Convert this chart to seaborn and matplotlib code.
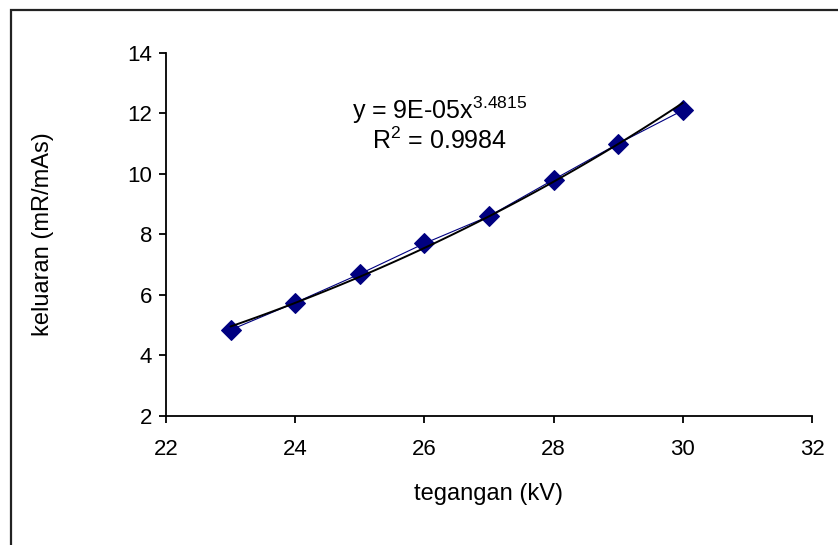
import numpy as np
import pandas as pd
import matplotlib
matplotlib.use('Agg')
import matplotlib.pyplot as plt
import seaborn as sns
from matplotlib.patches import Rectangle

# data
tegangan_kv = [23, 24, 25, 26, 27, 28, 29, 30]
keluaran = [4.84, 5.74, 6.69, 7.70, 8.60, 9.81, 11.0, 12.10]
x_ticks = [22, 24, 26, 28, 30, 32]
y_ticks = [2, 4, 6, 8, 10, 12, 14]
eq_text = r'y = 9E-05x$^{\mathrm{3.4815}}$'
r2_text = r'R$^{\mathrm{2}}$ = 0.9984'

MARKER_COLOUR = '#000080'   # navy

sns.set_style('white')
plt.rcParams['font.family'] = ['Liberation Sans', 'DejaVu Sans']
plt.rcParams['mathtext.fontset'] = 'custom'
plt.rcParams['mathtext.rm'] = 'Liberation Sans'
plt.rcParams['mathtext.it'] = 'Liberation Sans'
plt.rcParams['text.color'] = 'black'
plt.rcParams['axes.labelcolor'] = 'black'
plt.rcParams['xtick.color'] = 'black'
plt.rcParams['ytick.color'] = 'black'

df = pd.DataFrame({'kv': tegangan_kv, 'out': keluaran})

# power trendline fitted on the data (like the spreadsheet trendline)
b, log_a = np.polyfit(np.log(df['kv']), np.log(df['out']), 1)
trend = pd.DataFrame({'kv': np.linspace(min(tegangan_kv), max(tegangan_kv), 100)})
trend['out'] = np.exp(log_a) * trend['kv'] ** b

fig = plt.figure(figsize=(8.38, 5.45), dpi=100)
ax = fig.add_axes([0.198, 0.237, 0.771, 0.666])

sns.lineplot(data=df, x='kv', y='out', ax=ax, color=MARKER_COLOUR, lw=0.8,
             marker='D', markersize=10, markeredgecolor=MARKER_COLOUR)
sns.lineplot(data=trend, x='kv', y='out', ax=ax, color='black', lw=1.4)

ax.set_xlim(22, 32)
ax.set_ylim(2, 14)
ax.set_xticks(x_ticks)
ax.set_yticks(y_ticks)
ax.tick_params(axis='both', direction='out', length=5, width=1.3,
               labelsize=16, left=True, bottom=True)
ax.tick_params(axis='y', pad=5)
ax.tick_params(axis='x', pad=12)
for side in ['top', 'right']:
    ax.spines[side].set_visible(False)
for side in ['left', 'bottom']:
    ax.spines[side].set_color('black')
    ax.spines[side].set_linewidth(1.3)

ax.set_xlabel('tegangan (kV)', fontsize=17, labelpad=16)
ax.set_ylabel('keluaran (mR/mAs)', fontsize=17, labelpad=53)

ax.text(26.23, 12.1, eq_text, fontsize=18, ha='center', va='center')
ax.text(26.23, 11.1, r2_text, fontsize=18, ha='center', va='center')

# outer chart frame, cut off on right and bottom like the screenshot
fig.patches.append(Rectangle((0.013, -0.2), 1.2, 1.1817, transform=fig.transFigure,
                             fill=False, edgecolor='#222222', lw=1.6))

fig.savefig('out.png', dpi=100)
